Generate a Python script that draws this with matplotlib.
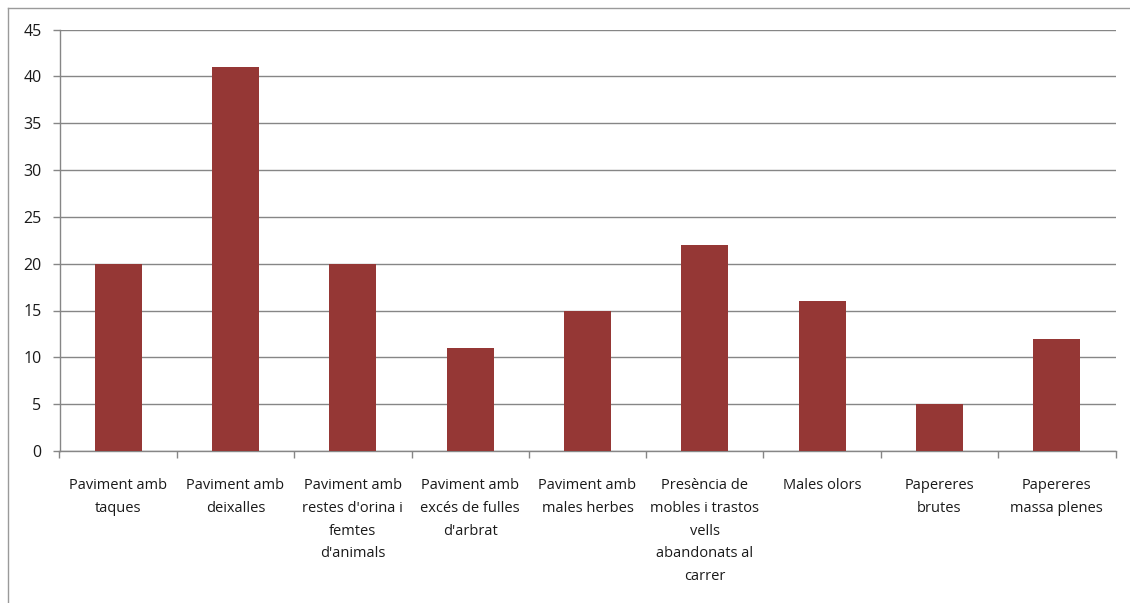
import matplotlib
matplotlib.use("Agg")
import matplotlib.pyplot as plt
from matplotlib.lines import Line2D

categories = [
    "Paviment amb\ntaques",
    "Paviment amb\ndeixalles",
    "Paviment amb\nrestes d'orina i\nfemtes\nd'animals",
    "Paviment amb\nexcés de fulles\nd'arbrat",
    "Paviment amb\nmales herbes",
    "Presència de\nmobles i trastos\nvells\nabandonats al\ncarrer",
    "Males olors",
    "Papereres\nbrutes",
    "Papereres\nmassa plenes",
]
values = [20, 41, 20, 11, 15, 22, 16, 5, 12]
y_ticks = [0, 5, 10, 15, 20, 25, 30, 35, 40, 45]

W, H = 1130, 603
fig = plt.figure(figsize=(W / 100, H / 100), dpi=100)
plt.rcParams['font.family'] = ['Open Sans', 'DejaVu Sans']

left, right, top, bottom = 59.5, 1115.5, 29.5, 451
ax = fig.add_axes([left / W, 1 - bottom / H, (right - left) / W, (bottom - top) / H])

grid_c = "#868686"
x = list(range(len(values)))
ax.bar(x, values, width=0.4, color="#953735", zorder=3)
ax.set_xlim(-0.5, len(values) - 0.5)
ax.set_ylim(0, 45)
ax.set_yticks(y_ticks)
ax.set_yticklabels([str(v) for v in y_ticks], fontsize=11.5, color="#1a1a1a")
ax.yaxis.grid(True, color=grid_c, linewidth=1, zorder=0)

# category separators as tick marks on the x axis
ax.set_xticks([i - 0.5 for i in range(len(values) + 1)])
ax.set_xticklabels([])
ax.tick_params(axis="x", direction="out", length=5, color=grid_c, width=1)
ax.tick_params(axis="y", direction="out", length=5, color=grid_c, width=1, pad=8)

for i, lab in enumerate(categories):
    ax.text(i, -2.85, lab, ha="center", va="top", fontsize=10.5, color="#1a1a1a",
            linespacing=1.72, transform=ax.transData)

for s in ["top", "right"]:
    ax.spines[s].set_visible(False)
for s in ["left", "bottom"]:
    ax.spines[s].set_color(grid_c)
    ax.spines[s].set_linewidth(1)

# outer chart border
fig.add_artist(Line2D([7.5 / W, 7.5 / W], [0, 1 - 8 / H], color="#9a9a9a", linewidth=1))
fig.add_artist(Line2D([7.5 / W, 1], [1 - 8 / H, 1 - 8 / H], color="#9a9a9a", linewidth=1))

fig.savefig("out.png", dpi=100)
